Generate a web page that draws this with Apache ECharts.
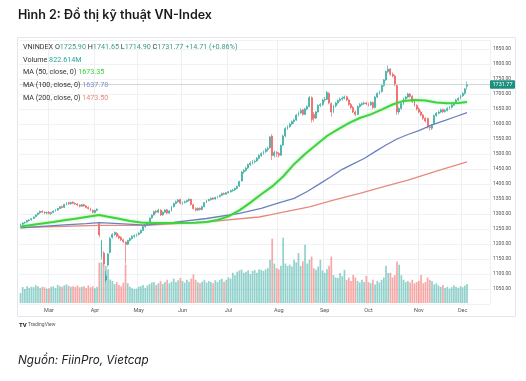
<!DOCTYPE html>
<html><head><meta charset="utf-8">
<script src="https://cdn.jsdelivr.net/npm/echarts@6/dist/echarts.min.js"></script>
<style>html,body{margin:0;padding:0;background:#fff}#c{width:526px;height:381px}</style>
</head><body><div id="c"></div>
<script>
const dates = [
'02-12','02-13','02-14','02-17','02-18','02-19','02-20','02-21','02-24','02-25','02-26','02-27','02-28',
'03-03','03-04','03-05','03-06','03-07','03-10','03-11','03-12','03-13','03-14','03-17','03-18','03-19','03-20','03-21','03-24','03-25','03-26','03-27','03-28','03-31',
'04-01','04-02','04-03','04-04','04-08','04-09','04-10','04-11','04-14','04-15','04-16','04-17','04-18','04-21','04-22','04-23','04-24','04-25','04-28','04-29',
'05-05','05-06','05-07','05-08','05-09','05-12','05-13','05-14','05-15','05-16','05-19','05-20','05-21','05-22','05-23','05-26','05-27','05-28','05-29','05-30',
'06-02','06-03','06-04','06-05','06-06','06-09','06-10','06-11','06-12','06-13','06-16','06-17','06-18','06-19','06-20','06-23','06-24','06-25','06-26','06-27','06-30',
'07-01','07-02','07-03','07-04','07-07','07-08','07-09','07-10','07-11','07-14','07-15','07-16','07-17','07-18','07-21','07-22','07-23','07-24','07-25','07-28','07-29','07-30','07-31',
'08-01','08-04','08-05','08-06','08-07','08-08','08-11','08-12','08-13','08-14','08-15','08-18','08-19','08-20','08-21','08-22','08-25','08-26','08-27','08-28','08-29',
'09-03','09-04','09-05','09-08','09-09','09-10','09-11','09-12','09-15','09-16','09-17','09-18','09-19','09-22','09-23','09-24','09-25','09-26','09-29','09-30',
'10-01','10-02','10-03','10-06','10-07','10-08','10-09','10-10','10-13','10-14','10-15','10-16','10-17','10-20','10-21','10-22','10-23','10-24','10-27','10-28','10-29','10-30','10-31',
'11-03','11-04','11-05','11-06','11-07','11-10','11-11','11-12','11-13','11-14','11-17','11-18','11-19','11-20','11-21','11-24','11-25','11-26','11-27','11-28',
'12-01','12-02','12-03'];

const opens = [
1262,1266,1271,1273,1278,1281,1285,1291,1298,1304,1309,1306,1303,
1306,1301,1305,1310,1313,1318,1325,1322,1332,1338,1334,1339,1336,1333,1330,1326,1331,1327,1322,1318,1312,
1305,1312,1268,1158,1170,1080,1130,1172,1222,1232,1236,1226,1222,1214,1206,1199,1212,1218,1226,1228,
1232,1237,1245,1258,1265,1271,1287,1297,1309,1306,1313,1297,1306,1314,1303,1310,1324,1335,1341,1348,
1336,1338,1341,1345,1349,1331,1318,1313,1319,1315,1324,1338,1345,1348,1353,1350,1355,1358,1362,1368,1366,
1371,1374,1378,1380,1385,1393,1410,1440,1445,1453,1465,1470,1474,1477,1486,1495,1502,1508,1515,1520,1560,1495,1505,
1502,1496,1530,1560,1585,1591,1600,1608,1613,1630,1637,1647,1632,1650,1658,1688,1632,1620,1640,1662,1665,
1680,1682,1702,1668,1640,1660,1670,1678,1683,1686,1691,1680,1665,1655,1640,1632,1658,1665,1668,1670,
1667,1664,1672,1655,1690,1702,1708,1728,1747,1775,1783,1766,1760,1728,1640,1652,1668,1684,1690,1700,1692,1675,1662,
1650,1640,1630,1619,1618,1590,1586,1600,1628,1636,1640,1648,1641,1645,1652,1656,1663,1670,1680,1685,
1694,1702,1725.90];

const highs = [
1268,1272,1275,1280,1283,1286,1292,1299,1305,1311,1312,1309,1308,
1310,1307,1312,1316,1320,1327,1328,1334,1340,1341,1341,1343,1339,1336,1332,1333,1334,1330,1325,1321,1315,
1314,1319,1272,1214,1176,1110,1170,1224,1236,1242,1240,1232,1226,1218,1210,1214,1222,1229,1232,1235,
1240,1248,1260,1268,1274,1289,1299,1311,1314,1318,1316,1309,1316,1317,1313,1327,1338,1345,1350,1351,
1342,1345,1348,1352,1351,1334,1322,1322,1322,1327,1340,1348,1351,1355,1356,1358,1361,1365,1371,1372,1374,
1377,1381,1384,1388,1395,1411,1443,1450,1458,1468,1475,1480,1482,1490,1499,1506,1512,1520,1525,1560,1566,1512,1510,
1506,1532,1565,1590,1596,1604,1612,1618,1634,1642,1652,1650,1654,1662,1694,1692,1640,1644,1666,1670,1684,
1690,1710,1706,1672,1664,1674,1682,1688,1692,1695,1694,1684,1670,1660,1645,1662,1670,1672,1675,1674,
1672,1676,1675,1694,1706,1712,1732,1750,1778,1795,1786,1772,1765,1732,1656,1672,1688,1694,1704,1703,1696,1680,1666,
1656,1645,1634,1623,1621,1596,1600,1632,1640,1645,1652,1651,1650,1656,1660,1667,1674,1684,1690,1698,
1706,1720,1741.65];

const lows = [
1258,1263,1267,1271,1275,1278,1283,1289,1295,1300,1303,1300,1299,
1299,1297,1303,1307,1310,1316,1318,1320,1329,1330,1331,1333,1330,1326,1322,1324,1324,1319,1315,1309,1302,
1302,1309,1222,1148,1128,1073,1125,1168,1218,1226,1222,1216,1210,1203,1135,1196,1208,1215,1220,1224,
1228,1234,1243,1254,1261,1269,1284,1294,1301,1303,1293,1294,1303,1299,1300,1308,1322,1332,1337,1332,
1330,1335,1338,1341,1328,1315,1308,1310,1311,1312,1322,1336,1342,1345,1346,1348,1352,1355,1360,1363,1364,
1368,1371,1374,1377,1382,1390,1408,1434,1441,1450,1460,1465,1468,1474,1482,1490,1497,1503,1508,1518,1480,1488,1490,
1488,1494,1526,1556,1580,1587,1596,1600,1610,1625,1633,1628,1630,1646,1655,1605,1608,1616,1638,1656,1660,
1674,1680,1666,1625,1636,1655,1665,1674,1678,1682,1676,1660,1650,1636,1626,1630,1654,1660,1663,1662,
1658,1660,1650,1652,1686,1698,1705,1724,1744,1770,1760,1755,1726,1630,1632,1648,1664,1680,1686,1688,1670,1658,1645,
1636,1626,1614,1605,1585,1578,1580,1598,1624,1632,1636,1636,1638,1642,1648,1652,1660,1667,1676,1682,
1690,1698,1714.90];

const closes = [
1266,1270,1272,1278,1280,1284,1290,1297,1303,1309,1306,1304,1305,
1302,1305,1310,1313,1318,1324,1322,1332,1337,1334,1338,1336,1333,1330,1326,1331,1327,1322,1318,1312,1306,
1312,1316,1230,1210,1133,1094,1167,1218,1232,1238,1226,1220,1214,1208,1199,1212,1218,1226,1228,1231,
1236,1245,1258,1265,1270,1286,1296,1308,1306,1313,1297,1306,1313,1303,1310,1324,1335,1341,1347,1336,
1338,1341,1345,1349,1332,1318,1313,1319,1315,1324,1338,1345,1348,1352,1350,1355,1358,1362,1368,1366,1371,
1374,1378,1380,1385,1392,1408,1440,1445,1453,1465,1470,1474,1476,1486,1495,1502,1508,1515,1518,1557,1495,1505,1502,
1496,1528,1560,1585,1591,1600,1608,1613,1630,1637,1645,1632,1650,1658,1688,1615,1620,1640,1662,1665,1680,
1682,1705,1670,1640,1660,1670,1678,1683,1686,1690,1680,1665,1655,1640,1632,1658,1665,1668,1670,1667,
1664,1672,1655,1690,1702,1708,1728,1747,1775,1783,1766,1760,1731,1640,1652,1668,1684,1690,1700,1692,1675,1662,1650,
1640,1630,1619,1610,1590,1588,1596,1628,1636,1640,1647,1641,1645,1652,1656,1663,1670,1680,1685,1694,
1702,1717.06,1731.77];

const volumes = [
430,690,600,720,650,700,680,760,720,650,700,680,620,
640,700,720,650,780,720,700,760,800,740,700,720,690,760,680,700,720,650,760,680,720,
640,700,1730,1750,1650,1590,1450,1010,950,820,900,780,720,880,1660,850,700,640,600,620,
700,720,780,650,760,820,880,900,780,850,950,820,900,1000,850,920,1050,900,980,1080,
950,880,1000,920,1050,1230,1000,900,850,920,1000,880,950,900,850,980,900,1000,1050,920,1000,
1100,1050,1300,1200,1350,1400,1440,1300,1350,1400,1250,1380,1420,1300,1440,1430,1380,1450,1500,1860,2770,1700,1500,
1450,1600,2815,1700,1600,1650,1570,1860,1750,2150,1600,1800,2510,1700,1860,2000,1500,1430,1570,1860,1400,
1300,1450,1600,2000,1200,1100,1080,1290,1150,1430,1000,1100,950,1210,1100,950,880,1000,900,1170,
900,850,1000,800,950,880,1000,1100,1600,1290,1300,1100,1200,1790,1650,1200,1000,900,950,880,1000,850,900,
950,1210,850,900,1100,1000,950,800,850,750,700,780,650,700,620,680,750,700,650,720,
680,750,822.614];

const ma50 = [['02-12',1258],['02-19',1263],['02-26',1268],['03-05',1273],['03-12',1279],['03-19',1284],['03-26',1290],
['04-03',1297],['04-10',1291],['04-17',1284],['04-24',1277],['05-06',1272],['05-13',1270],['05-27',1270],['06-10',1271],
['06-17',1273],['06-24',1280],['07-01',1292],['07-08',1312],['07-15',1338],['07-22',1366],['07-29',1392],['08-05',1425],
['08-12',1466],['08-19',1500],['08-26',1530],['09-04',1560],['09-11',1582],['09-18',1603],['09-25',1620],['10-02',1632],
['10-09',1648],['10-16',1665],['10-23',1677],['10-30',1680],['11-06',1678],['11-13',1672],['11-20',1669],['11-27',1670],['12-03',1673.35]];

const ma100 = [['02-12',1254],['02-26',1259],['03-12',1264],['03-26',1268],['04-03',1271],['04-17',1268],['05-08',1263],
['05-27',1272],['06-17',1285],['07-08',1302],['07-22',1319],['08-01',1337],['08-12',1352],['08-20',1375],['08-28',1402],
['09-08',1425],['09-15',1449],['09-22',1467],['09-29',1485],['10-06',1508],['10-13',1530],['10-20',1550],['10-27',1565],
['11-03',1578],['11-11',1597],['11-19',1612],['11-26',1625],['12-03',1637.78]];

const ma200 = [['02-12',1255],['04-03',1262],['05-08',1262],['06-17',1274],['07-21',1290],['07-28',1297],['08-05',1306],
['08-21',1324],['09-09',1346],['09-25',1369],['10-10',1391],['10-27',1413],['11-13',1443],['12-03',1473.5]];

const monthNames = {'02':'Feb','03':'Mar','04':'Apr','05':'May','06':'Jun','07':'Jul','08':'Aug','09':'Sep','10':'Oct','11':'Nov','12':'Dec'};
const priceTicks = [1050,1100,1150,1200,1250,1300,1350,1400,1450,1500,1550,1600,1650,1700,1750,1800,1850];

const UP = '#26a69a', DOWN = '#ef5350';
const pad = ['', '', '', '', '', '', '', '', '', ''];
const xData = dates.concat(pad);
const candle = dates.map((d, i) => [opens[i], closes[i], lows[i], highs[i]]);
const vol = dates.map((d, i) => ({value: volumes[i], itemStyle: {color: closes[i] >= opens[i] ? 'rgba(38,166,154,0.5)' : 'rgba(239,83,80,0.5)'}}));
const isMonthStart = (idx) => idx > 0 && idx < dates.length && dates[idx].slice(0,2) !== dates[idx-1].slice(0,2);

const chart = echarts.init(document.getElementById('c'));
const gridL = 19.4, gridR = 36;
const tagLabel = (text, bg, fg) => ({show: true, position: 'end', formatter: text, backgroundColor: bg, color: fg, fontSize: 5.5,
          fontFamily: 'Roboto', padding: [1.5, 2.5, 1, 2.5], distance: 0, borderRadius: 1});
const tag = (val, text, bg, fg) => ({
  silent: true, symbol: ['none','none'],
  data: [{yAxis: val}],
  lineStyle: {opacity: 0},
  label: tagLabel(text, bg, fg)
});
const F = 'Roboto';
const legendLine = (y, text, valColor) => ({type: 'text', x: 23, y: y, z: 100, style: {text: text, font: '7.2px ' + F, textVerticalAlign: 'middle',
      rich: {k: {fill: '#333', fontSize: 7.2, fontFamily: F}, g: {fill: valColor, fontSize: 7.2, fontFamily: F}}}});
chart.setOption({
  animation: false,
  backgroundColor: '#fff',
  grid: [
    {left: gridL, right: gridR, top: 40, bottom: 77},
    {left: gridL, right: gridR, top: 173, bottom: 78}
  ],
  xAxis: [
    {type: 'category', data: xData, gridIndex: 0, boundaryGap: true,
     axisLine: {show: false}, axisTick: {show: false},
     axisLabel: {interval: (i) => isMonthStart(i), formatter: (v) => monthNames[v.slice(0,2)] || '',
                 fontSize: 5.5, color: '#555', margin: 4, fontFamily: F},
     splitLine: {show: true, interval: (i) => isMonthStart(i), lineStyle: {color: '#eef0f4', width: 1}}},
    {type: 'category', data: xData, gridIndex: 1, boundaryGap: true, show: false}
  ],
  yAxis: [
    {type: 'value', gridIndex: 0, position: 'right', min: 1000, max: 1880, interval: 50, scale: true,
     axisLine: {show: false}, axisTick: {show: false},
     axisLabel: {fontSize: 5, color: '#555', margin: 3, fontFamily: F,
                 formatter: (v) => priceTicks.indexOf(v) >= 0 ? v.toFixed(2) : ''},
     splitLine: {show: true, lineStyle: {color: '#f0f2f6', width: 1}}},
    {type: 'value', gridIndex: 1, min: 0, max: 5600, show: false}
  ],
  series: [
    {type: 'bar', xAxisIndex: 1, yAxisIndex: 1, data: vol, barWidth: '78%', z: 1,
     markLine: tag(822.614, '822.614M', '#1f9e8c', '#fff')},
    {type: 'candlestick', xAxisIndex: 0, yAxisIndex: 0, data: candle, barWidth: 1.4, z: 3,
     itemStyle: {color: UP, color0: DOWN, borderColor: UP, borderColor0: DOWN, borderWidth: 0.6},
     markLine: {silent: true, symbol: ['none','none'], data: [{yAxis: 1731.77}],
       lineStyle: {color: '#b9c7c4', type: 'solid', width: 0.7},
       label: tagLabel('1731.77', '#1d8f7e', '#fff')}},
    {type: 'line', data: ma200, showSymbol: false, z: 4, lineStyle: {color: '#e8897f', width: 1.3},
     markLine: tag(1473.5, '1473.50', '#f2a19b', '#7a2a25')},
    {type: 'line', data: ma100, showSymbol: false, z: 5, lineStyle: {color: '#6b80bf', width: 1.3},
     markLine: tag(1637.78, '1637.78', '#7d8fd0', '#fff')},
    {type: 'line', data: ma50, showSymbol: false, z: 6,
     lineStyle: {color: '#3fd33f', width: 2, shadowColor: 'rgba(63,211,63,0.45)', shadowBlur: 3},
     markLine: tag(1673.35, '1673.35', '#3ee03e', '#1a4d1a')}
  ],
  graphic: [
    {type: 'rect', silent: true, shape: {x: 17.5, y: 37.5, width: 498, height: 279},
     style: {fill: 'none', stroke: '#e3e6ec', lineWidth: 1}},
    {type: 'text', x: 18, y: 15, style: {text: 'Hình 2: Đồ thị kỹ thuật VN-Index', fill: '#1a1a1a',
      font: '600 12.5px Inter', textVerticalAlign: 'middle'}},
    legendLine(47.5, '{k|VNINDEX} {k|O}{g|1725.90} {k|H}{g|1741.65} {k|L}{g|1714.90} {k|C}{g|1731.77} {g|+14.71 (+0.86%)}', '#3f9a8a'),
    legendLine(60.5, '{k|Volume} {g|822.614M}', '#26a69a'),
    legendLine(72.5, '{k|MA (50, close, 0)} {g|1673.35}', '#3fcf3f'),
    legendLine(85, '{k|MA (100, close, 0)} {g|1637.78}', '#7d8fc8'),
    legendLine(98.5, '{k|MA (200, close, 0)} {g|1473.50}', '#e8897f'),
    {type: 'text', x: 19, y: 325, style: {text: '{b|TV} {t|TradingView}', font: '5px Roboto', textVerticalAlign: 'middle',
      rich: {b: {fill: '#131722', fontSize: 6, fontWeight: 'bold', fontFamily: F}, t: {fill: '#555', fontSize: 5, fontFamily: F}}}},
    {type: 'text', x: 18, y: 360, style: {text: 'Nguồn: FiinPro, Vietcap', fill: '#222',
      font: 'italic 11.7px Inter', textVerticalAlign: 'middle'}}
  ]
});
</script>
</body></html>
